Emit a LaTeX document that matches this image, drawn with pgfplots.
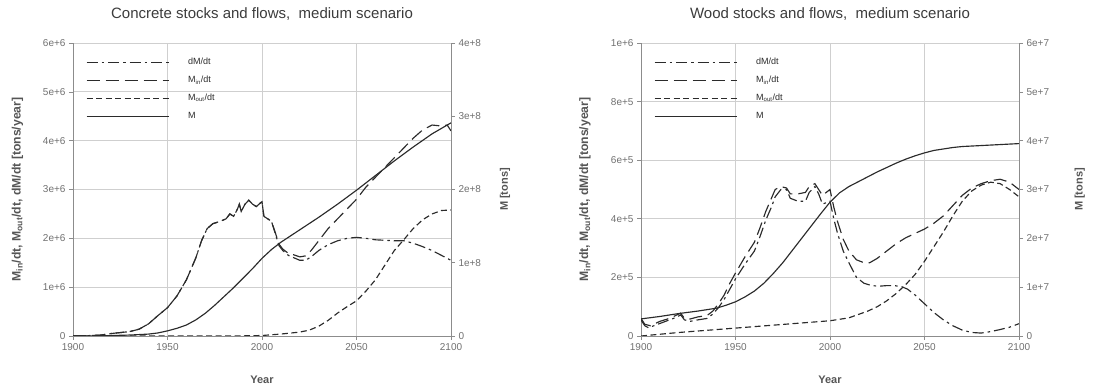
\documentclass[border=0pt]{standalone}
\usepackage{pgfplots}
\pgfplotsset{compat=1.18}
\usepackage{fontspec}
\setmainfont{Liberation Sans}
\definecolor{gridc}{HTML}{CFCFCF}
\definecolor{axc}{HTML}{8C8C8C}
\definecolor{tickc}{HTML}{707070}
\definecolor{linec}{HTML}{2B2B2B}
\definecolor{titlec}{HTML}{3C3C3C}
\tikzset{
  ddash/.style={dash pattern=on 11pt off 4pt on 2.5pt off 4pt},
  indash/.style={dash pattern=on 13pt off 6pt},
  outdash/.style={dash pattern=on 6pt off 3.5pt},
}
\pgfplotsset{
  base/.style={
    scale only axis, width=378pt, height=293pt,
    xmin=1900, xmax=2100,
    axis line style={axc, line width=0.8pt},
    tick style={axc, line width=0.6pt},
    major tick length=4pt, tick align=outside,
    tick label style={font=\fontsize{10}{10}\selectfont, text=tickc},
    every axis plot/.append style={line width=1.15pt, color=linec},
    label style={font=\fontsize{11}{12}\selectfont\bfseries, text=linec!80},
  },
  leftax/.style={
    base,
    axis x line*=bottom, axis y line*=left,
    xtick={1900,1950,2000,2050,2100},
    xticklabels={1900,1950,2000,2050,2100},
    grid=major, major grid style={gridc, line width=0.7pt},
    xlabel={Year},
    xlabel style={at={(axis description cs:0.5,-0.15)}, anchor=center},
    ylabel={M\textsubscript{in}/dt, M\textsubscript{out}/dt, dM/dt [tons/year]},
    ylabel style={at={(axis description cs:-0.147,0.5)}, anchor=center, font=\fontsize{12.2}{13}\selectfont\bfseries},
    title style={font=\fontsize{15}{16}\selectfont, text=titlec, at={(axis description cs:0.5,1.078)}, anchor=center},
    legend cell align=left,
    legend image code/.code={\draw[#1] (0pt,0pt) -- (82pt,0pt);},
    legend style={at={(axis description cs:0.026,0.955)}, anchor=north west, draw=none, fill=none,
      font=\fontsize{9}{10}\selectfont, text=linec,
      nodes={inner sep=0pt, text height=6.5pt, text depth=2pt},
      row sep=9.5pt,
      /tikz/every odd column/.append style={column sep=19pt}},
  },
  rightax/.style={
    base,
    axis x line=none, axis y line*=right,
    ymin=0, ymax=4, ytick={0,1,2,3,4},
    ylabel={M [tons]},
    ylabel style={anchor=center},
  },
}
\begin{document}
\begin{tikzpicture}
\useasboundingbox (0,0) rectangle (1113pt,385pt);
% ---------------- Concrete ----------------
\begin{axis}[leftax, at={(73pt,49pt)}, anchor=south west,
  ymin=0, ymax=6, ytick={0,1,2,3,4,5,6},
  yticklabels={0,1e+6,2e+6,3e+6,4e+6,5e+6,6e+6},
  title={Concrete stocks and flows,\ \ medium scenario}]
\addplot[ddash] table {
1900 0
1910 0.01
1915 0.02
1920 0.05
1925 0.07
1930 0.09
1935 0.14
1940 0.25
1945 0.42
1950 0.58
1955 0.82
1960 1.15
1965 1.6
1968 1.95
1971 2.2
1974 2.3
1978 2.35
1981 2.4
1983 2.5
1985 2.45
1987 2.6
1988 2.7
1989 2.55
1991 2.7
1993 2.78
1995 2.7
1997 2.65
1999 2.72
2000 2.75
2001 2.45
2003 2.4
2005 2.35
2007 2.1
2009 1.85
2011 1.75
2014 1.65
2017 1.6
2020 1.55
2023 1.55
2026 1.62
2030 1.75
2035 1.87
2040 1.95
2045 2.0
2050 2.02
2055 2.0
2060 1.97
2065 1.96
2070 1.95
2075 1.95
2080 1.9
2085 1.83
2090 1.75
2095 1.65
2100 1.55
};
\addlegendentry{dM/dt}
\addplot[indash] table {
1900 0
1910 0.01
1915 0.02
1920 0.05
1925 0.07
1930 0.09
1935 0.14
1940 0.25
1945 0.42
1950 0.58
1955 0.82
1960 1.15
1965 1.6
1968 1.95
1971 2.2
1974 2.3
1978 2.35
1981 2.4
1983 2.5
1985 2.45
1987 2.6
1988 2.7
1989 2.55
1991 2.7
1993 2.78
1995 2.7
1997 2.65
1999 2.72
2000 2.75
2001 2.45
2003 2.4
2005 2.35
2007 2.12
2009 1.88
2011 1.78
2014 1.69
2017 1.66
2020 1.62
2023 1.64
2026 1.75
2030 1.95
2035 2.2
2040 2.4
2045 2.6
2050 2.8
2055 3.05
2060 3.25
2065 3.45
2070 3.65
2075 3.85
2080 4.05
2085 4.22
2090 4.32
2095 4.3
2098 4.32
2100 4.2
};
\addlegendentry{M\textsubscript{in}/dt}
\addplot[outdash] table {
1900 0
1950 0
1990 0.003
2000 0.01
2010 0.04
2020 0.08
2025 0.12
2030 0.2
2035 0.32
2040 0.47
2045 0.6
2050 0.72
2055 0.92
2060 1.15
2065 1.45
2070 1.75
2075 1.97
2080 2.2
2085 2.38
2090 2.5
2095 2.57
2100 2.58
};
\addlegendentry{M\textsubscript{out}/dt}
\addlegendimage{solid, line width=1.15pt, linec}
\addlegendentry{M}
\end{axis}
\begin{axis}[rightax, at={(73pt,49pt)}, anchor=south west,
  yticklabels={0,1e+8,2e+8,3e+8,4e+8},
  ylabel style={at={(axis description cs:1.143,0.5)}}]
\addplot[solid] table {
1900 0
1910 0.002
1920 0.006
1930 0.013
1940 0.026
1945 0.042
1950 0.07
1955 0.105
1960 0.15
1965 0.22
1970 0.31
1975 0.42
1980 0.54
1985 0.66
1990 0.79
1995 0.92
2000 1.06
2005 1.18
2010 1.28
2020 1.45
2030 1.62
2040 1.80
2050 1.99
2060 2.19
2070 2.39
2080 2.58
2090 2.76
2100 2.91
};
\end{axis}
% ---------------- Wood ----------------
\begin{axis}[leftax, at={(641pt,49pt)}, anchor=south west,
  ymin=0, ymax=10, ytick={0,2,4,6,8,10},
  yticklabels={0,2e+5,4e+5,6e+5,8e+5,1e+6},
  ylabel style={at={(axis description cs:-0.148,0.5)}},
  title={Wood stocks and flows,\ \ medium scenario}]
\addplot[ddash] table {
1900 0.55
1902 0.35
1904 0.28
1908 0.38
1913 0.5
1918 0.62
1921 0.72
1923 0.55
1926 0.5
1930 0.55
1935 0.6
1938 0.75
1941 0.97
1944 1.25
1947 1.6
1950 1.95
1955 2.45
1960 2.9
1963 3.4
1966 3.95
1969 4.4
1971 4.75
1974 5.0
1977 5.0
1979 4.7
1983 4.6
1987 4.6
1989 4.9
1992 5.1
1994 4.85
1996 4.5
1998 4.55
2000 4.6
2002 4.0
2004 3.5
2007 2.9
2010 2.5
2014 2.0
2018 1.8
2022 1.72
2026 1.7
2030 1.72
2034 1.72
2038 1.68
2041 1.6
2045 1.4
2050 1.1
2055 0.8
2060 0.55
2065 0.35
2070 0.2
2075 0.12
2080 0.1
2085 0.15
2090 0.22
2095 0.3
2100 0.42
};
\addlegendentry{dM/dt}
\addplot[indash] table {
1900 0.6
1902 0.4
1905 0.35
1910 0.5
1915 0.6
1921 0.78
1923 0.6
1926 0.58
1930 0.65
1935 0.7
1938 0.85
1941 1.1
1944 1.4
1947 1.8
1950 2.15
1955 2.7
1960 3.2
1963 3.7
1966 4.25
1969 4.7
1971 5.0
1974 5.1
1977 5.05
1979 4.85
1983 4.85
1987 4.9
1989 5.1
1992 5.2
1994 5.0
1996 4.8
1998 4.9
2000 5.0
2002 4.4
2004 3.9
2007 3.3
2010 2.9
2014 2.6
2018 2.5
2021 2.5
2025 2.65
2030 2.9
2035 3.15
2040 3.35
2045 3.5
2050 3.65
2055 3.85
2060 4.1
2065 4.45
2070 4.8
2075 5.05
2080 5.2
2085 5.3
2090 5.35
2095 5.25
2100 5.0
};
\addlegendentry{M\textsubscript{in}/dt}
\addplot[outdash] table {
1900 0
1920 0.12
1940 0.22
1960 0.32
1980 0.42
2000 0.52
2010 0.62
2020 0.85
2025 1.0
2030 1.2
2035 1.45
2040 1.75
2045 2.1
2050 2.55
2055 3.05
2060 3.55
2065 4.1
2070 4.6
2075 4.95
2080 5.15
2085 5.25
2090 5.2
2095 5.0
2100 4.75
};
\addlegendentry{M\textsubscript{out}/dt}
\addlegendimage{solid, line width=1.15pt, linec}
\addlegendentry{M}
\end{axis}
\begin{axis}[rightax, at={(641pt,49pt)}, anchor=south west,
  ymin=0, ymax=6, ytick={0,1,2,3,4,5,6},
  yticklabels={0,1e+7,2e+7,3e+7,4e+7,5e+7,6e+7},
  ylabel style={at={(axis description cs:1.161,0.5)}}]
\addplot[solid] table {
1900 0.35
1910 0.4
1920 0.46
1930 0.51
1940 0.57
1945 0.63
1950 0.7
1955 0.8
1960 0.92
1965 1.08
1970 1.28
1975 1.5
1980 1.75
1985 2.0
1990 2.25
1995 2.5
2000 2.74
2005 2.93
2010 3.06
2015 3.16
2020 3.26
2025 3.36
2030 3.45
2035 3.54
2040 3.62
2045 3.69
2050 3.75
2055 3.8
2060 3.83
2065 3.86
2070 3.88
2080 3.9
2090 3.92
2100 3.94
};
\end{axis}
\end{tikzpicture}
\end{document}
